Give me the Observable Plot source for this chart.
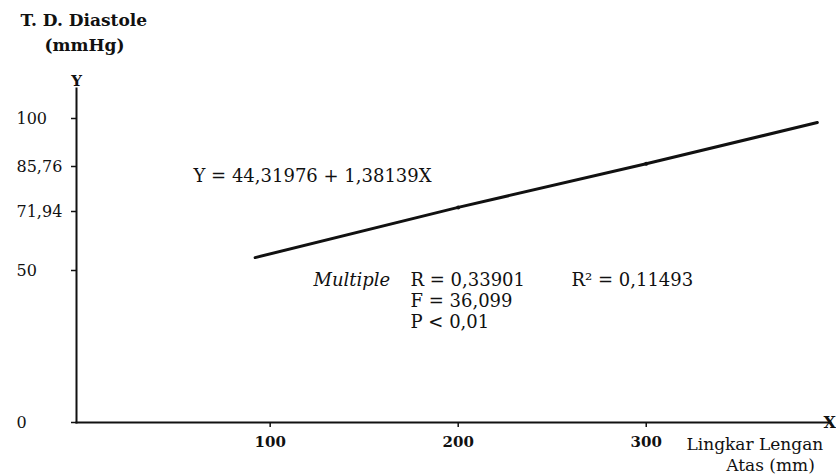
<!DOCTYPE html>
<html>
<head>
<meta charset="utf-8">
<script src="https://cdn.jsdelivr.net/npm/d3@7"></script>
<script src="https://cdn.jsdelivr.net/npm/@observablehq/plot@0.6"></script>
<style>
  html, body { margin: 0; padding: 0; background: #fff; }
  svg { display: block; }
  svg text { font-family: "DejaVu Serif", serif; }
</style>
</head>
<body>
<div id="chart"></div>
<script>
// ---- data ----
const xTicks = [100, 200, 300];
const yTicks = [0, 50, 71.94, 85.76, 100];
const yTickLabels = ["0", "50", "71,94", "85,76", "100"];
const lineX = [92, 200, 300, 391];
const lineY = [54.8, 73.2, 86.6, 98.8];
const markX = [200, 300];
const markY = [73.2, 86.6];
const titleLines = ["T. D. Diastole", "(mmHg)"];
const xLabelLines = ["Lingkar Lengan", "Atas (mm)"];
const equation = "Y = 44,31976 + 1,38139X";
const statMultiple = "Multiple";
const statR = "R = 0,33901";
const statR2 = "R² = 0,11493";
const statF = "F = 36,099";
const statP = "P < 0,01";

const lineData = lineX.map((x, i) => ({x, y: lineY[i]}));
const markData = markX.map((x, i) => ({x, y: markY[i]}));
const yLabelData = yTicks.map((v, i) => ({v, label: yTickLabels[i]}));

const serif = "DejaVu Serif";
const fs = 18;

const note = (text, anchor, dx, dy, extra = {}) =>
  Plot.text([text], {frameAnchor: anchor, dx, dy, text: d => d, textAnchor: "start",
    lineAnchor: "middle", fontSize: fs, fill: "#111", fontFamily: serif, ...extra});

const chart = Plot.plot({
  width: 836,
  height: 476,
  marginLeft: 76,
  marginRight: 6,
  marginTop: 88,
  marginBottom: 54,
  style: {fontFamily: serif, fontSize: "16px", color: "#111", background: "#fff", overflow: "visible"},
  x: {type: "linear", domain: [-3, 398]},
  y: {type: "linear", domain: [0, 50, 71.94, 85.76, 100, 110], range: [422, 270, 211, 166, 118, 88]},
  marks: [
    Plot.frame({anchor: "left", stroke: "#111", strokeWidth: 2}),
    Plot.frame({anchor: "bottom", stroke: "#111", strokeWidth: 2}),
    Plot.axisY({ticks: yTicks, tickSize: 5, tickFormat: () => "", label: null, strokeWidth: 1.5}),
    Plot.axisX({ticks: xTicks, tickSize: 5, tickPadding: 9, label: null, fontSize: 15, fontWeight: "bold", fontFamily: serif, strokeWidth: 1.5}),
    Plot.text(yLabelData, {y: "v", text: "label", frameAnchor: "left", dx: -60, textAnchor: "start",
      fontSize: 16, fill: "#111", fontFamily: serif}),
    Plot.line(lineData, {x: "x", y: "y", stroke: "#111", strokeWidth: 3}),
    Plot.dot(markData, {x: "x", y: "y", r: 2, fill: "#111"}),
    note(titleLines[0], "top-left", -56, -68, {fontWeight: "bold", fontSize: 17}),
    note(titleLines[1], "top-left", -32, -43, {fontWeight: "bold", fontSize: 17}),
    note("Y", "top-left", 0, -7, {textAnchor: "middle", fontWeight: "bold", fontSize: 15}),
    note(equation, "top-left", 117, 88),
    note(statMultiple, "top-left", 237, 192, {fontStyle: "italic"}),
    note(statR, "top-left", 334, 192),
    note(statR2, "top-left", 495, 192),
    note(statF, "top-left", 334, 213),
    note(statP, "top-left", 334, 234),
    note("X", "bottom-right", -7, 0, {fontSize: 16, fontWeight: "bold"}),
    note(xLabelLines[0], "bottom-left", 610, 22, {fontSize: 17}),
    note(xLabelLines[1], "bottom-left", 694, 43, {textAnchor: "middle", fontSize: 17})
  ]
});
document.getElementById("chart").appendChild(chart);
</script>
</body>
</html>
